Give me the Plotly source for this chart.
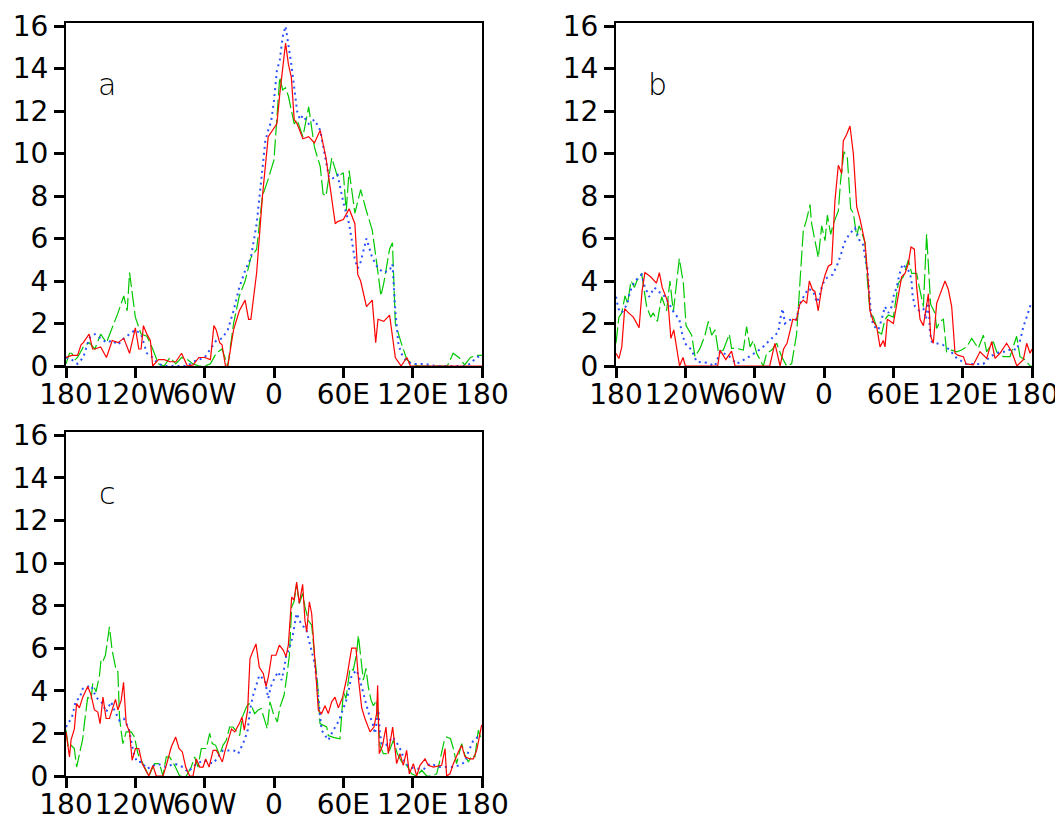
import plotly.graph_objects as go

# ---------------- data ----------------
XTICK_VALS = [-180, -120, -60, 0, 60, 120, 180]
XTICK_TEXT = ["180", "120W", "60W", "0", "60E", "120E", "180"]
YTICK_VALS = [0, 2, 4, 6, 8, 10, 12, 14, 16]
PANEL_LABELS = ["a", "b", "c"]

# panel a
A_RED_LON = [-180,-175,-170,-167,-165,-160,-157,-155,-150,-145,-140,-135,-130,-125,-120,-117,-115,-113,-110,-107,-105,-100,-95,-90,-85,-80,-75,-70,-65,-60,-55,-52,-50,-47,-45,-42,-40,-35,-30,-25,-22,-20,-15,-10,-5,0,2.5,5,7.5,10,12.5,15,17.5,20,25,30,35,40,45,50,53,55,60,65,70,72.5,75,80,85,88,90,95,100,105,110,115,118,180]
A_RED = [0.4,0.5,0.5,1.0,1.1,1.5,0.8,0.8,0.9,0.4,1.2,1.1,1.3,0.6,1.8,0.8,0.8,1.9,1.5,1.2,0,0.3,0.3,0.2,0.2,0.6,0,0.05,0.4,0.4,0.3,1.9,1.7,1.1,1.0,0,0,1.7,2.6,3.1,2.2,2.2,4.4,8.0,10.8,11.2,11.4,12.8,14.1,15.2,14.2,13.6,11.6,11.4,10.7,10.8,10.5,11.1,9.8,8.0,6.7,6.8,6.9,7.4,6.7,4.3,4.0,2.8,3.1,1.1,2.2,2.1,2.4,0.4,0,0.4,0,0]

A_GREEN_LON = [-180,-177,-175,-172,-170,-165,-160,-155,-150,-145,-140,-135,-130,-127,-125,-120,-115,-110,-105,-100,-95,-90,-85,-80,-75,-70,-65,-60,-55,-50,-45,-40,-35,-30,-25,-20,-15,-10,-5,0,2.5,5,7.5,10,12.5,15,17.5,20,25,30,35,40,42.5,45,50,55,60,62.5,65,70,75,80,85,90,92.5,95,100,102.5,105,110,115,120,125,150,155,160,165,170,175,180]
A_GREEN = [0.1,0.6,0.6,0.3,0.4,0.9,1.1,0.8,1.5,1.1,1.8,2.5,3.3,2.6,4.4,2.3,1.5,1.4,0.8,0.1,0,0.4,0.1,0.4,0.3,0.1,0,0,0.1,0.6,0.8,0,2.0,3.3,4.0,5.1,5.5,8.0,8.8,9.7,11.7,13.6,13.0,13.1,12.7,12.0,11.4,11.6,10.8,12.2,10.3,9.4,8.1,8.0,9.8,8.9,9.1,7.3,9.2,7.2,8.3,7.3,6.4,4.4,3.3,3.9,5.5,5.8,2.0,1.1,0.3,0.1,0,0,0.6,0.4,0.05,0.4,0.5,0.5]

A_BLUE_LON = [-180,-175,-170,-165,-160,-155,-150,-145,-140,-135,-130,-125,-120,-115,-110,-105,-100,-95,-75,-70,-65,-60,-55,-50,-45,-40,-35,-30,-25,-20,-15,-10,-7.5,-5,-2.5,0,2.5,5,7.5,10,12.5,15,17.5,20,22.5,25,30,35,40,45,47.5,50,55,60,65,70,72.5,75,80,85,90,95,100,102.5,105,107.5,110,115,120,130,135,140,165,170,175,180]
A_BLUE = [0.4,0.3,0.1,0.4,1.3,1.5,1.3,1.1,1.2,1.0,1.3,1.5,1.7,1.5,0.6,0.4,0.1,0,0,0.2,0.3,0.4,0.8,1.2,1.3,1.7,2.6,3.7,4.5,5.1,6.7,9.4,10.6,11.1,11.5,12.5,13.9,14.4,15.5,16.0,15.2,14.2,13.1,12.0,11.6,11.8,11.4,11.6,11.1,9.5,8.9,8.8,9.0,7.7,6.7,5.0,4.6,4.9,6.0,5.1,4.6,4.4,4.5,4.8,2.6,1.1,0.6,0.2,0.1,0.1,0.05,0,0,0.1,0.4,0.5]

# panel b
B_RED_LON = [-180,-177.5,-175,-172.5,-170,-165,-160,-157.5,-155,-150,-145,-142.5,-140,-135,-132.5,-130,-125,-122,-120,-92,-90,-85,-80,-77,-47,-42.5,-38,-35,-32,-27,-24,-21,-18,-15,-12.7,-10,-7.8,-5,-2,1,3.7,6.6,9.5,12.4,15.3,16.7,19.6,22.5,25.4,28.3,31.2,34,35.5,38.4,39.8,42.7,45.6,48.5,51.3,52.8,54.8,60,62.9,67.2,70.1,72.9,75.3,78.2,80.2,83.1,86,88.8,90.3,92.3,94.6,97.5,100.4,104.7,107.6,110.5,113.4,116.2,120.6,122.9,129.2,135,140.8,145.1,148,152.3,158,162.5,166.9,172.5,175.4,178.3,180]
B_RED = [0.6,0.35,0.9,2.7,2.55,2.3,1.8,3.5,4.4,4.2,3.9,4.4,3.7,3.0,1.3,1.7,0,0.4,0,0,0.75,0.3,0.7,0,0,1.07,0,0.8,1.07,2.2,2.15,2.9,3.1,2.95,4.0,3.6,3.5,2.6,3.7,4.3,4.7,4.8,7.8,9.45,9.06,10.6,10.9,11.3,10.0,7.5,6.9,6.2,5.8,3.9,2.6,2.1,1.85,0.9,1.2,0.9,2.2,2.0,2.95,4.2,4.36,4.8,5.6,5.5,3.7,2.2,1.9,2.8,3.4,1.4,1.07,2.95,3.4,4.0,3.6,2.8,0.6,0.5,0.44,0.1,0.05,0.67,0.36,1.15,0.36,0.6,1.07,0.67,0,0.3,1.07,0.6,0.8]

B_GREEN_LON = [-180,-177.5,-175,-172.2,-170,-167,-164,-162,-157.8,-153.5,-150,-147.7,-144.2,-140.5,-136.2,-133.3,-130.4,-125.2,-121.7,-119.4,-114.5,-111.6,-107.3,-103,-100.1,-97.2,-94.3,-91.4,-87.1,-81.9,-80,-75.6,-69.8,-67,-64,-61.2,-58.3,-52.5,-49.6,-45.3,-41,-36.6,-32.3,-28,-23.7,-20.8,-17.9,-15,-12.1,-10.7,-7.8,-4.9,-2,0.9,2.9,5.8,8.1,12.4,14.4,17.3,20.2,21.9,23.1,25.4,28.3,30.3,32.6,35.5,36.9,39.8,42.7,47,49.9,52.8,55.7,60,64.3,68.6,73,75.9,80.2,82.5,86,88.8,91.1,92.3,96,97.5,100.4,103.3,106.1,110.5,114.8,119.1,123.5,127.8,133.5,137.9,140.8,146.5,149.4,155.2,161,166.7,169.6,173.9,178.3,180]
B_GREEN = [1.07,2.3,2.5,3.3,2.95,4.0,3.7,4.0,4.36,2.8,2.3,2.5,2.1,3.26,2.6,4.0,2.55,5.06,3.9,1.9,1.45,0.44,0.83,1.45,2.1,1.45,1.7,0.67,0.75,1.5,0.83,0.83,0.75,1.85,0.9,1.2,0.6,0,0.6,0.75,1.07,0.44,0,0.1,1.5,4.2,6.4,6.9,7.6,6.7,5.8,5.1,6.6,5.9,7.1,6.2,6.7,7.3,8.75,10.1,9.8,8.6,7.4,7.2,6.1,6.6,6.3,5.8,4.5,2.5,2.3,1.6,1.5,2.2,2.4,2.3,3.9,4.2,5.0,4.36,4.36,3.7,2.8,6.2,3.7,2.9,2.5,1.77,2.1,2.2,0.67,0.75,0.67,0.75,0.9,1.3,0.83,1.45,0.67,1.15,0.67,0.44,0.44,1.4,0.44,0.3,0,0]

B_BLUE_LON = [-180,-178,-175,-170,-167.9,-163.6,-157.8,-154.9,-151.2,-146.8,-143.4,-139.6,-134.7,-129.8,-125.2,-123.2,-120.3,-114.5,-110.2,-101.5,-94.3,-90,-82.8,-75.6,-67,-54,-49.6,-42.4,-39.5,-38.1,-35.8,-33.8,-30,-26.5,-23.7,-21.4,-17.9,-13.6,-9.2,-6.3,-4,-2,0.9,3.7,7.5,11,14.4,17.6,21.9,26.8,29.1,31.2,34,35.5,37.5,38.4,39.2,39.8,40.7,42.7,47,49.9,52.8,55.7,58.6,60,62.9,65.2,68,74.4,75.9,76.7,78.7,82.5,86,88.3,90.3,91.7,93.2,97.5,102.7,109,113.4,116.8,122.9,137.9,143.6,152.3,158,162.4,166.7,170.2,172.5,176,178.8]
B_BLUE = [3.26,2.7,2.5,2.95,3.5,4.0,4.3,3.7,3.26,3.7,3.5,3.4,3.0,2.5,2.2,1.6,1.07,0.75,0.2,0.15,0,0.67,0.5,0.1,0.36,0.83,1.07,1.45,1.6,2.16,2.7,2.0,2.16,2.2,2.2,2.9,3.26,3.65,3.5,3.0,3.26,3.7,4.1,4.2,4.3,4.7,5.2,5.8,6.2,6.5,6.2,5.85,5.7,5.1,4.6,4.0,3.5,2.95,2.4,1.9,1.7,2.2,2.8,2.5,2.8,3.26,3.7,4.3,4.8,4.4,3.9,3.3,2.8,2.6,2.7,2.2,3.26,1.6,1.15,1.07,1.0,0.75,0.44,0.3,0.1,0.1,0.44,0.67,0.67,0.83,0.75,1.3,1.85,2.4,2.9]

# panel c
C_RED_LON = [-180,-177,-175.6,-172.8,-170.8,-168.4,-165.5,-161.2,-158.3,-155.4,-152.5,-150.5,-148,-145.3,-142.4,-139.5,-137.2,-135.1,-132.2,-130.2,-127.9,-125,-122.8,-119.9,-117,-114.1,-111.2,-108.3,-104.8,-101.9,-96.1,-93.2,-88.9,-85.1,-82.2,-79.3,-76.4,-73,-70.1,-67.2,-64.3,-61.4,-59.1,-56.2,-52.7,-49.8,-46.9,-44.7,-42.6,-39.7,-36.8,-33.9,-30,-27.7,-25.7,-22.8,-20.8,-18.5,-15.6,-12.7,-9.2,-6.9,-4.9,-2,1.7,4.6,8.1,10.4,12.4,15.3,17.3,19.6,21.9,24.8,26.8,28.3,30.6,32.6,35.5,38.4,41.2,44.1,47,49.9,52.8,55.7,59.4,62.9,67.2,71,73,75.9,78.7,83.1,86.5,88.8,89.7,91.1,94,96.9,98.9,102.7,106.1,109,111.9,114.8,117.1,120.6,123.5,126.3,130.7,133.5,137.9,145.1,148,149.4,152.3,155.2,159.5,162.4,165.3,169.6,172.5,175.4,179.7]
C_RED = [2.07,0.9,1.7,2.2,3.4,3.2,3.7,4.2,3.8,3.1,3.0,2.46,3.7,2.7,2.7,3.2,3.6,3.1,3.56,4.4,2.46,2.07,0.74,1.29,1.29,0.58,0.27,0,0.5,0,0,0.5,1.36,1.83,1.29,1.13,0.42,0,0,0.8,0.42,0.42,0.8,0.42,1.2,1.2,0.9,0.66,1.13,1.68,2.2,2.07,2.46,2.77,2.15,3.1,5.5,5.83,6.2,5.1,4.8,4.2,4.65,5.67,5.67,6.14,5.9,5.6,6.14,8.4,8.26,9.1,8.1,9.0,7.3,6.77,8.18,7.63,5.4,3.09,2.93,3.3,2.93,3.48,3.7,3.2,3.7,4.6,6.0,6.0,4.6,3.2,2.7,2.07,2.3,2.93,4.26,1.05,1.44,2.3,1.05,2.3,0.58,1.05,0.5,1.2,0.1,0.58,0,0.5,0.8,0.5,0.42,0.5,1.29,0,0.1,0.58,1.13,1.44,0.9,0.8,0.8,1.2,2.4]

C_GREEN_LON = [-180,-178,-175.6,-172.8,-170.8,-168.4,-165.5,-164.1,-161.2,-158.3,-156.9,-154,-151,-149.7,-148.2,-145.9,-143.8,-142.4,-140.1,-138.6,-136.6,-135.1,-133.7,-132.2,-130.8,-127.9,-123.6,-120.7,-117.8,-114.9,-112.2,-108.3,-103.4,-99.1,-96.1,-93.2,-90.4,-86,-81.7,-75.9,-71.6,-68.7,-65.8,-62.9,-58.6,-55.7,-53.4,-50.5,-47,-44.2,-41.3,-38.4,-35.5,-32.6,-29.7,-27.4,-23.9,-21.6,-19.6,-16.7,-13.8,-10.9,-9.8,-5.8,-3.5,-0.6,2.9,5.2,8.7,11,13.3,15.3,17.3,19.6,21.9,24.8,26.8,29.7,32.6,35.5,37.5,39.8,42.7,45.6,47,52,57.1,60,62.3,65.8,68.6,71.5,73,75.9,77.3,79.6,81.6,84,86,88.8,91.7,94.6,98.9,103.3,106.7,110.5,114.8,119.1,123.5,127.8,132.1,136.4,140.8,143.6,147.1,149.4,152.8,155.2,158,162.4,165.3,168.2,171.1,173.9,176.8,179.7]
C_GREEN = [2.15,1.36,1.44,1.29,0.42,1.05,1.75,2.46,3.7,3.56,4.34,3.95,4.73,5.44,5.36,5.67,6.6,7.0,5.9,5.5,4.97,4.89,2.77,2.07,1.52,2.07,2.07,1.83,1.05,0.74,0.42,0,0.58,0.58,0,0.9,0.9,0.5,0,0,0.42,0.9,0.42,1.29,1.29,2.0,1.52,1.44,0.97,1.44,1.68,2.3,2.3,2.07,1.9,2.77,3.24,3.4,3.3,2.93,3.1,3.17,2.93,2.22,3.48,2.93,2.54,3.24,3.79,4.65,5.67,7.95,8.18,8.97,8.1,8.57,7.95,7.3,7.08,5.44,4.5,2.46,2.38,2.3,1.9,1.8,1.75,3.95,3.64,5.05,4.97,5.75,6.6,5.36,4.5,5.05,4.18,3.56,3.3,3.56,1.44,1.05,1.05,1.68,1.05,0.66,0.5,0.1,0,0.27,0,0,0.1,0.74,1.6,1.83,1.75,1.29,0.58,1.52,0.97,0.66,0.97,0.9,2.15,1.68]

C_BLUE_LON = [-180,-174.8,-171.3,-168.4,-165.5,-161.8,-158.3,-154,-148.2,-145.3,-141,-138.1,-133.7,-130,-125.6,-123.6,-121.5,-118.6,-114.9,-110,-100.6,-93.8,-86,-78.8,-74.5,-68.7,-61.4,-52.7,-44.2,-39.7,-34.8,-31,-26.8,-23,-20.5,-18.5,-15.6,-12.7,-9.8,-7.8,-6.3,-4.9,-2.9,0.9,3.7,6.6,8.7,10.4,13.8,16.2,19.6,23.9,27.7,29.7,32.6,34.9,36.3,37.5,38.4,39.2,41.2,47,51.3,56.2,60,63.5,67.2,71.5,74.4,76.7,79.6,81.6,85.4,87.4,88.8,90.3,91.7,93.2,96.9,102.7,106.7,110.5,113.4,121.4,130.1,135,143.6,153.7,160.4,165.3,168.2,172.5,178.3]
C_BLUE = [2.3,2.77,3.56,3.64,4.1,4.18,4.26,3.7,3.4,3.0,3.48,3.09,2.6,2.7,2.22,1.65,1.08,0.66,0.66,0.34,0.58,0.42,0.58,0.42,0.19,0.5,0.74,0.58,1.2,1.2,1.2,1.05,1.52,2.07,3.17,3.7,4.18,4.73,4.58,4.5,4.03,3.64,4.18,4.65,4.89,4.5,5.05,5.6,6.07,6.6,7.63,7.08,6.93,6.46,5.9,5.36,4.8,4.26,3.7,3.17,2.15,1.68,2.15,2.6,3.17,3.7,4.73,4.97,4.5,4.03,3.48,3.0,2.46,1.99,2.54,3.09,1.99,1.52,1.44,1.83,1.52,1.13,0.58,0.34,0.34,0.58,0.42,0.42,0.5,0.66,1.13,1.68,1.91]

# ---------------- figure ----------------
# the page body has an 8px margin, so the figure is 8px smaller and shifted
OFF = 8
W, H = 1063 - OFF, 819 - OFF
RED, GREEN, BLUE = "#ff0000", "#00c800", "#2850ff"

panels = [
    dict(lab=PANEL_LABELS[0], red=(A_RED_LON, A_RED), green=(A_GREEN_LON, A_GREEN), blue=(A_BLUE_LON, A_BLUE),
         px=(66, 482), py=(23, 366)),
    dict(lab=PANEL_LABELS[1], red=(B_RED_LON, B_RED), green=(B_GREEN_LON, B_GREEN), blue=(B_BLUE_LON, B_BLUE),
         px=(616, 1032), py=(23, 366)),
    dict(lab=PANEL_LABELS[2], red=(C_RED_LON, C_RED), green=(C_GREEN_LON, C_GREEN), blue=(C_BLUE_LON, C_BLUE),
         px=(66, 482), py=(432, 776)),
]

fig = go.Figure()
tickfont = dict(family="DejaVu Sans", size=28, color="black")

for i, p in enumerate(panels):
    n = "" if i == 0 else str(i + 1)
    xa, ya = "x" + n, "y" + n
    fig.add_trace(go.Scatter(x=p["green"][0], y=p["green"][1], mode="lines", xaxis=xa, yaxis=ya,
                             line=dict(color=GREEN, width=1.2, dash="16px,4px"), showlegend=False))
    fig.add_trace(go.Scatter(x=p["blue"][0], y=p["blue"][1], mode="lines", xaxis=xa, yaxis=ya,
                             line=dict(color=BLUE, width=2, dash="2px,4px"), showlegend=False))
    fig.add_trace(go.Scatter(x=p["red"][0], y=p["red"][1], mode="lines", xaxis=xa, yaxis=ya,
                             line=dict(color=RED, width=1.2), showlegend=False))
    common = dict(showline=True, mirror=True, linecolor="black", linewidth=2, showgrid=False,
                  zeroline=False, ticks="outside", ticklen=10, tickwidth=3, tickcolor="black",
                  tickfont=tickfont, automargin=False)
    x0, x1 = p["px"][0] - OFF, p["px"][1] - OFF
    y0, y1 = p["py"][0] - OFF, p["py"][1] - OFF
    fig.layout["xaxis" + n] = dict(domain=[x0 / W, x1 / W], range=[-180, 180], tickangle=0,
                                   ticklabelstandoff=-8,
                                   tickvals=XTICK_VALS, ticktext=XTICK_TEXT, anchor=ya, **common)
    fig.layout["yaxis" + n] = dict(domain=[1 - y1 / H, 1 - y0 / H], range=[0, 16.15],
                                   tickvals=YTICK_VALS, anchor=xa, **common)
    fig.add_annotation(text=p["lab"], xref=xa + " domain", yref=ya + " domain",
                       x=0.0986, y=0.82, xanchor="center", yanchor="middle", showarrow=False,
                       font=dict(family="DejaVu Sans", size=30, color="black", weight=200))

fig.update_layout(width=W, height=H, margin=dict(l=0, r=0, t=0, b=0),
                  paper_bgcolor="white", plot_bgcolor="white", template="none")

fig.write_html("out.html")
